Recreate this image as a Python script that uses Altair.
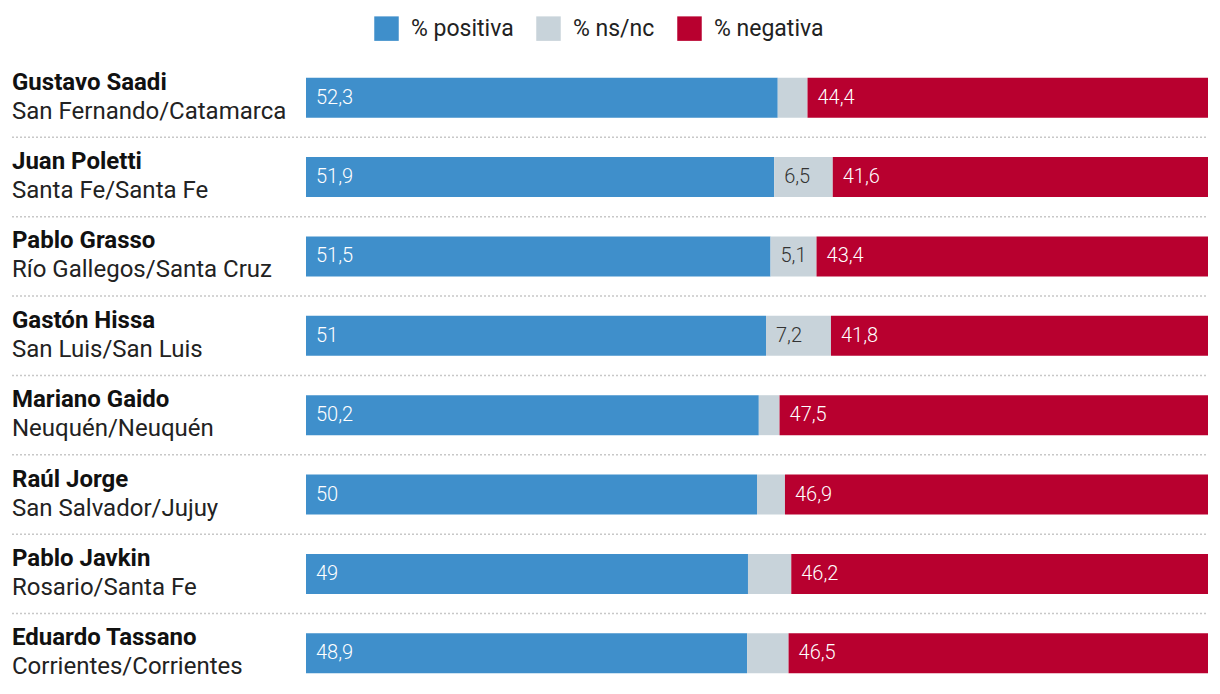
import altair as alt
import pandas as pd

names = ["Gustavo Saadi", "Juan Poletti", "Pablo Grasso", "Gastón Hissa",
         "Mariano Gaido", "Raúl Jorge", "Pablo Javkin", "Eduardo Tassano"]
cities = ["San Fernando/Catamarca", "Santa Fe/Santa Fe", "Río Gallegos/Santa Cruz",
          "San Luis/San Luis", "Neuquén/Neuquén", "San Salvador/Jujuy",
          "Rosario/Santa Fe", "Corrientes/Corrientes"]
positiva = [52.3, 51.9, 51.5, 51.0, 50.2, 50.0, 49.0, 48.9]
nsnc = [3.3, 6.5, 5.1, 7.2, 2.3, 3.1, 4.8, 4.6]
negativa = [44.4, 41.6, 43.4, 41.8, 47.5, 46.9, 46.2, 46.5]
categories = ["% positiva", "% ns/nc", "% negativa"]
colors = ["#3F8FCB", "#C8D3DA", "#B8002F"]
text_colors = ["#ffffff", "#333333", "#ffffff"]


def fmt(v):
    return f"{v:g}".replace(".", ",")


rows = []
for i, n in enumerate(names):
    for k, (cat, vals) in enumerate(zip(categories, [positiva, nsnc, negativa])):
        v = vals[i]
        show = (k != 1) or (v >= 5)
        rows.append({"name": n, "city": cities[i], "cat": cat, "order": k,
                     "value": v, "label": fmt(v) if show else "",
                     "tcolor": text_colors[k]})
df = pd.DataFrame(rows)
people = pd.DataFrame({"name": names, "city": cities})
seps = people.iloc[1:]

yenc = alt.Y("name:N", sort=names, axis=None,
             scale=alt.Scale(paddingInner=0.4964, paddingOuter=0.2482))

base = alt.Chart(df).transform_stack(
    stack="value", groupby=["name"], as_=["x0", "x1"],
    sort=[alt.SortField("order", order="ascending")]
)

bars = base.mark_bar().encode(
    x=alt.X("x0:Q", scale=alt.Scale(domain=[0, 100], nice=False, zero=True), axis=None),
    x2="x1:Q",
    y=yenc,
    color=alt.Color("cat:N", sort=categories,
                    scale=alt.Scale(domain=categories, range=colors),
                    legend=alt.Legend(title=None, orient="none", direction="horizontal",
                                      legendX=68, legendY=-42,
                                      symbolType="square", symbolSize=600,
                                      symbolStrokeWidth=0, symbolOpacity=1,
                                      labelFont="Roboto", labelFontSize=23,
                                      labelColor="#222222", labelOffset=12,
                                      columnPadding=22)),
)

vals = base.mark_text(align="left", baseline="middle", dx=10, font="Roboto",
                      fontSize=20, fontWeight=300).encode(
    x=alt.X("x0:Q", scale=alt.Scale(domain=[0, 100], nice=False)),
    y=yenc,
    text="label:N",
    color=alt.Color("tcolor:N", scale=None),
)

name_txt = alt.Chart(people).mark_text(
    align="left", baseline="middle", font="Roboto", fontSize=24,
    fontWeight="bold", color="#111111", dy=-15
).encode(x=alt.value(-294), y=yenc, text="name:N")

city_txt = alt.Chart(people).mark_text(
    align="left", baseline="middle", font="Roboto", fontSize=24,
    color="#222222", dy=14
).encode(x=alt.value(-294), y=yenc, text="city:N")

sep = alt.Chart(seps).mark_rule(
    color="#c8c8c8", strokeDash=[2, 2], strokeWidth=1.5, yOffset=-39.7
).encode(x=alt.value(-294), x2=alt.value(902), y=yenc)

chart = alt.layer(sep, bars, vals, name_txt, city_txt).properties(
    width=902, height=635,
    padding={"left": 306, "top": 58, "right": 12, "bottom": 0},
    autosize=alt.AutoSizeParams(type="none"),
).configure_view(stroke=None)

chart.save("out.html", embed_options={"renderer": "svg", "actions": False})
